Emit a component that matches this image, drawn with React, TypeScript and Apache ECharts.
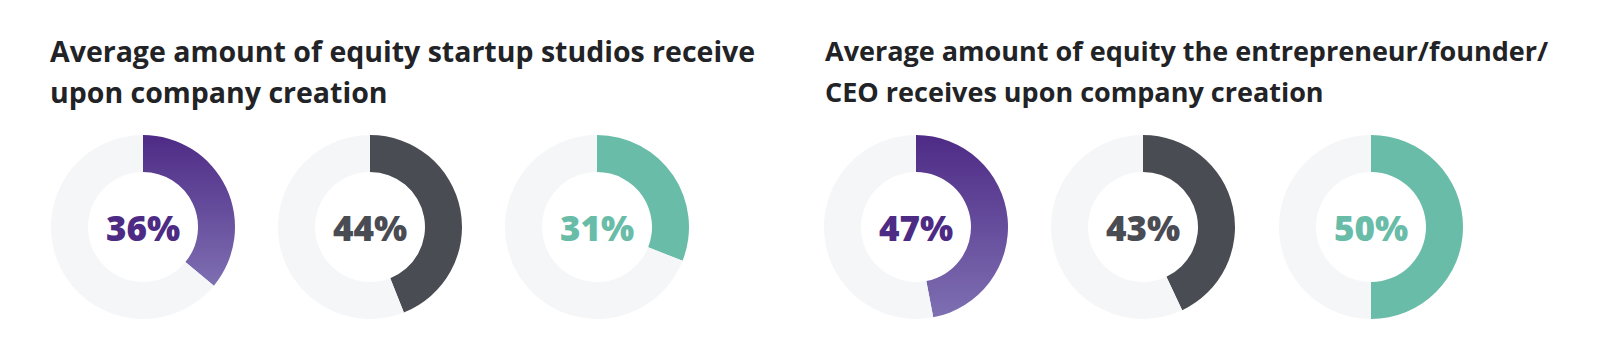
import React, { useEffect, useRef } from "react";
import * as echarts from "echarts";

const titles = [
  "Average amount of equity startup studios receive\nupon company creation",
  "Average amount of equity the entrepreneur/founder/\nCEO receives upon company creation",
];
const studioValues = [36, 44, 31];
const founderValues = [47, 43, 50];
const centersX = [143, 370, 597, 916, 1143, 1371];
const titleX = [50, 825];
const titleSize = [28.5, 27];

const PURPLE_TOP = "#4e2b86";
const PURPLE_BOTTOM = "#7e6fb2";
const GRAY = "#4a4c54";
const TEAL = "#69bca8";
const TRACK = "#f5f6f8";

export default function App() {
  const ref = useRef<HTMLDivElement>(null);
  useEffect(() => {
    document.body.style.margin = "0";
    const chart = echarts.init(ref.current!, null, { renderer: "svg" });
    const values = [...studioValues, ...founderValues];
    const colorFor = (i: number) => {
      const k = i % 3;
      if (k === 0)
        return new echarts.graphic.LinearGradient(0, 0, 0, 1, [
          { offset: 0, color: PURPLE_TOP },
          { offset: 1, color: PURPLE_BOTTOM },
        ]);
      return k === 1 ? GRAY : TEAL;
    };
    const textColorFor = (i: number) => {
      const k = i % 3;
      return k === 0 ? "#4d2b85" : k === 1 ? GRAY : TEAL;
    };
    const series = values.map((v, i) => ({
      type: "pie",
      center: [centersX[i], 227],
      radius: [55, 92],
      startAngle: 90,
      clockwise: true,
      silent: true,
      labelLine: { show: false },
      emphasis: { disabled: true },
      data: [
        {
          value: v,
          itemStyle: { color: colorFor(i) },
          label: {
            show: true,
            position: "center",
            formatter: `${v}%`,
            fontFamily: "Open Sans",
            fontWeight: 800,
            fontSize: 35,
            color: textColorFor(i),
          },
        },
        {
          value: 100 - v,
          itemStyle: { color: TRACK },
          label: { show: false },
        },
      ],
    }));
    chart.setOption({
      animation: false,
      backgroundColor: "#ffffff",
      graphic: titles.map((t, i) => ({
        type: "text",
        left: titleX[i],
        top: 30,
        style: {
          text: t,
          fontFamily: "Open Sans",
          fontWeight: 700,
          fontSize: titleSize[i],
          lineHeight: 41,
          fill: "#222326",
        },
      })),
      series,
    });
    return () => chart.dispose();
  }, []);
  return <div ref={ref} style={{ width: 1600, height: 360 }} />;
}
